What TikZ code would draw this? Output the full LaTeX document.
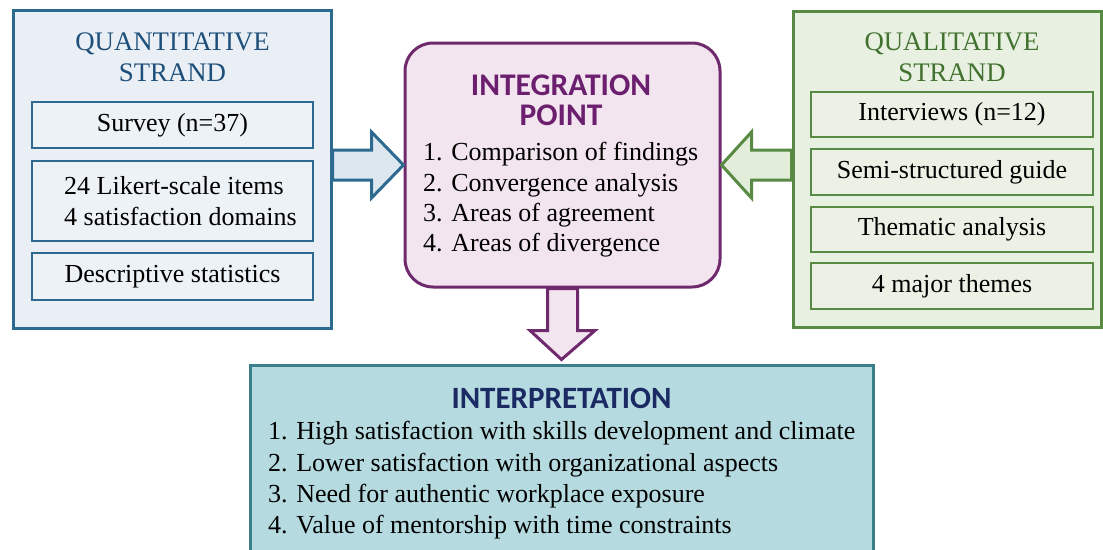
\documentclass[tikz,border=0pt]{standalone}
\usepackage{fontspec}
\setmainfont{Liberation Serif}
\newfontfamily\headfont{Carlito}
\usetikzlibrary{calc}

\definecolor{qline}{HTML}{2D6A8F}
\definecolor{qfill}{HTML}{E9EFF5}
\definecolor{qinner}{HTML}{EDF2F7}
\definecolor{qarrow}{HTML}{DCE7F0}
\definecolor{qtext}{HTML}{1D4F7A}
\definecolor{pline}{HTML}{6E2A6C}
\definecolor{pfill}{HTML}{F3E5F0}
\definecolor{ptext}{HTML}{6B1F6E}
\definecolor{gline}{HTML}{588A44}
\definecolor{gfill}{HTML}{E8F0E1}
\definecolor{ginner}{HTML}{EBF2E5}
\definecolor{garrow}{HTML}{E2EDDA}
\definecolor{gtext}{HTML}{42722F}
\definecolor{tline}{HTML}{3B7F8A}
\definecolor{tfill}{HTML}{B5DAE0}
\definecolor{ttext}{HTML}{1B2A63}

\begin{document}
\begin{tikzpicture}[x=1pt,y=-1pt,
  body/.style={font=\fontsize{26}{31}\selectfont},
  strandtitle/.style={font=\fontsize{26.8}{31}\selectfont, align=center, inner sep=0pt},
  head/.style={font=\headfont\bfseries\fontsize{31.5}{30}\selectfont, inner sep=0pt},
  listtext/.style={anchor=west, align=left, inner sep=0pt},
  qouter/.style={draw=qline, fill=qfill, line width=3pt, inner sep=0pt},
  qbox/.style={draw=qline, fill=qinner, line width=2.5pt, inner sep=0pt, minimum width=281pt, body},
  gouter/.style={draw=gline, fill=gfill, line width=3pt, inner sep=0pt},
  gbox/.style={draw=gline, fill=ginner, line width=2.5pt, inner sep=0pt, minimum width=282pt, body},
  blockarrow/.style={line width=3pt, line join=miter},
]
\useasboundingbox (0,0) rectangle (1103,549);
\fill[white] (0,0) rectangle (1103,549);

% quantitative strand
\node[qouter, minimum width=318pt, minimum height=318pt] (Q) at (172,169) {};
\node[strandtitle, text=qtext] (qt) at (172.5,57.5) {QUANTITATIVE\\STRAND};
\node[qbox, minimum height=46pt] (q1) at (172.5,125) {Survey (n=37)};
\node[qbox, minimum height=80pt, align=left] (q2) at (172.5,201)
  {\hspace*{16pt}24 Likert-scale items\\\hspace*{16pt}4 satisfaction domains};
\node[qbox, minimum height=47pt] (q3) at (172.5,276.5) {Descriptive statistics};

% qualitative strand
\node[gouter, minimum width=308pt, minimum height=316pt] (R) at (947,169) {};
\node[strandtitle, text=gtext] (gt) at (952,57.5) {QUALITATIVE\\STRAND};
\node[gbox, minimum height=45pt] (g1) at (952,114.5) {Interviews (n=12)};
\node[gbox, minimum height=46pt] (g2) at (952,172) {Semi-structured guide};
\node[gbox, minimum height=45pt] (g3) at (952,229.5) {Thematic analysis};
\node[gbox, minimum height=46pt] (g4) at (952,286) {4 major themes};

% integration point
\node[draw=pline, fill=pfill, line width=3pt, rounded corners=28pt,
      minimum width=315pt, minimum height=244pt, inner sep=0pt] (M) at (562.5,165) {};
\node[head, text=ptext, align=center] (mt) at (561,100) {INTEGRATION\\POINT};
\node[listtext, font=\fontsize{26}{30.3}\selectfont] (ml) at (423,200)
  {1. Comparison of findings\\2. Convergence analysis\\3. Areas of agreement\\4. Areas of divergence};

% interpretation
\node[draw=tline, fill=tfill, line width=3pt, minimum width=623pt, minimum height=200pt,
      inner sep=0pt] (B) at (561.5,465) {};
\node[head, text=ttext, font=\headfont\bfseries\fontsize{31}{30}\selectfont] (bt) at (561.5,398) {INTERPRETATION};
\node[listtext, font=\fontsize{26}{31.3}\selectfont] (bl) at (268,480.5)
  {1. High satisfaction with skills development and climate\\2. Lower satisfaction with organizational aspects\\3. Need for authentic workplace exposure\\4. Value of mentorship with time constraints};

% block arrows into and out of the integration point
\draw[blockarrow, draw=qline, fill=qarrow]
  ($(Q.east|-M.west)+(0,-15)$) -- ($(M.west)+(-32,-15)$) -- ($(M.west)+(-32,-33)$)
  -- (M.west) -- ($(M.west)+(-32,33)$) -- ($(M.west)+(-32,15)$)
  -- ($(Q.east|-M.west)+(0,15)$) -- cycle;
\draw[blockarrow, draw=gline, fill=garrow]
  ($(R.west|-M.east)+(0,-15)$) -- ($(M.east)+(30,-15)$) -- ($(M.east)+(30,-33)$)
  -- (M.east) -- ($(M.east)+(30,33)$) -- ($(M.east)+(30,15)$)
  -- ($(R.west|-M.east)+(0,15)$) -- cycle;
\draw[blockarrow, draw=pline, fill=pfill]
  ($(M.south)+(-15,0)$) -- ($(M.south)+(-15,42)$) -- ($(M.south)+(-32.5,42)$)
  -- ($(B.north)+(0,-4)$) -- ($(M.south)+(32.5,42)$) -- ($(M.south)+(15,42)$)
  -- ($(M.south)+(15,0)$) -- cycle;
\end{tikzpicture}
\end{document}
